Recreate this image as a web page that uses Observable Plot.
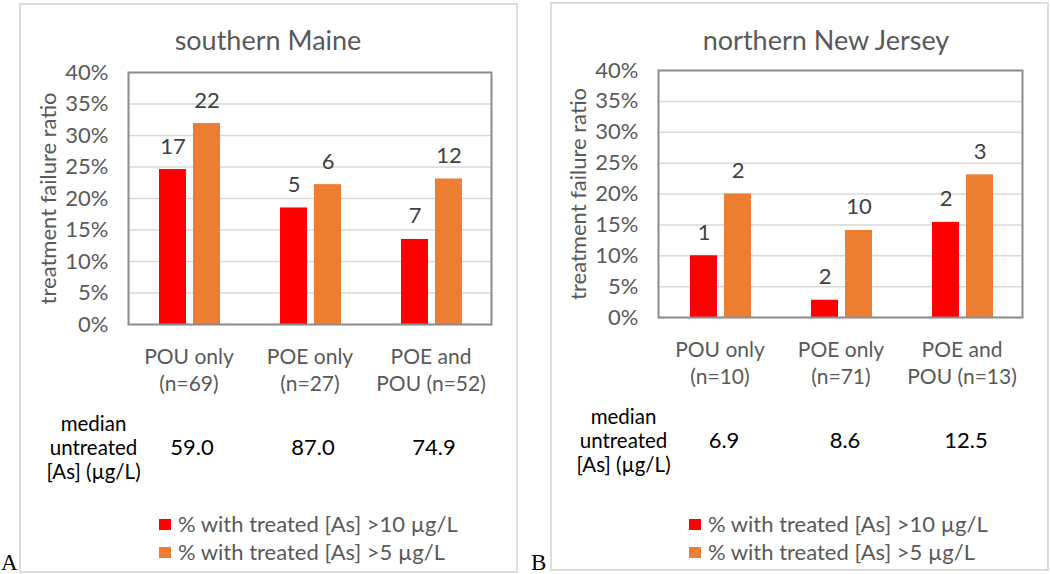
<!DOCTYPE html>
<html>
<head>
<meta charset="utf-8">
<script src="https://cdn.jsdelivr.net/npm/d3@7"></script>
<script src="https://cdn.jsdelivr.net/npm/@observablehq/plot@0.6"></script>
<style>
  body { margin: 0; background: #fff; font-family: Lato, "Open Sans", sans-serif; }
  #root { position: relative; width: 1050px; height: 574px; overflow: hidden; background: #fff; }
  .panel { position: absolute; border: 2px solid #dcdcdc; box-sizing: border-box; }
  .title { position: absolute; transform: translate(-50%, -50%); white-space: nowrap; color: #595959; font-size: 27px; }
  .chart { position: absolute; }
  .legend { position: absolute; color: #595959; font-size: 22px; line-height: 28px; white-space: nowrap; }
  .legend .row { display: flex; align-items: center; height: 28px; }
  .legend .sw { width: 12px; height: 11px; margin-right: 7px; }
  .letter { position: absolute; font-family: "Liberation Serif", "DejaVu Serif", serif; font-size: 23px; color: #000; line-height: 1; }
</style>
</head>
<body>
<div id="root"></div>
<script>
// ---- data ----
const series = ["% with treated [As] >10 µg/L", "% with treated [As] >5 µg/L"];
const seriesColors = ["#ff0000", "#ed7d31"];
const yTicks = [0, 0.05, 0.10, 0.15, 0.20, 0.25, 0.30, 0.35, 0.40];
const yLabel = "treatment failure ratio";
const medianLabel = "median\nuntreated\n[As] (µg/L)";

const maineTitle = "southern Maine";
const maineCategories = ["POU only\n(n=69)", "POE only\n(n=27)", "POE and\nPOU (n=52)"];
const maineOver10 = [0.246, 0.185, 0.135];
const maineOver5 = [0.319, 0.222, 0.231];
const maineCount10 = [17, 5, 7];
const maineCount5 = [22, 6, 12];
const maineMedian = ["59.0", "87.0", "74.9"];

const njTitle = "northern New Jersey";
const njCategories = ["POU only\n(n=10)", "POE only\n(n=71)", "POE and\nPOU (n=13)"];
const njOver10 = [0.100, 0.028, 0.154];
const njOver5 = [0.200, 0.141, 0.231];
const njCount10 = [1, 2, 2];
const njCount5 = [2, 10, 3];
const njMedian = ["6.9", "8.6", "12.5"];

const root = document.getElementById("root");

function makePanel(cfg) {
  const rows = cfg.categories.map((c, i) => ({
    cat: c, v10: cfg.over10[i], v5: cfg.over5[i],
    n10: cfg.count10[i], n5: cfg.count5[i], med: cfg.median[i]
  }));
  const fs = 22;
  const svg = Plot.plot({
    width: cfg.w, height: cfg.h,
    marginLeft: cfg.ml, marginRight: cfg.mr, marginTop: cfg.mt, marginBottom: cfg.mb,
    style: { background: "transparent", fontFamily: "Lato, 'Open Sans', sans-serif", overflow: "visible", color: "#595959" },
    x: { domain: cfg.categories, padding: 0, axis: null },
    y: { domain: [0, 0.4], axis: null },
    marks: [
      Plot.ruleY(yTicks, { stroke: "#d9d9d9", strokeWidth: 1.5 }),
      Plot.barY(rows, { x: "cat", y: "v10", fill: seriesColors[0], insetLeft: 31, insetRight: 63 }),
      Plot.barY(rows, { x: "cat", y: "v5", fill: seriesColors[1], insetLeft: 65, insetRight: 29 }),
      Plot.frame({ stroke: "#8c8c8c", strokeWidth: 2 }),
      Plot.axisY(yTicks, { tickSize: 0, tickPadding: 20, tickFormat: d3.format(".0%"), fontSize: fs, fill: "#595959", label: null }),
      Plot.text([yLabel], { frameAnchor: "left", textAnchor: "middle", lineAnchor: "middle", rotate: -90, dx: -80, fontSize: fs, fill: "#595959" }),
      Plot.text(rows, { x: "cat", y: "v10", text: "n10", dx: -16, dy: -23, fontSize: fs, fill: "#404040" }),
      Plot.text(rows, { x: "cat", y: "v5", text: "n5", dx: 18, dy: -23, fontSize: fs, fill: "#404040" }),
      Plot.text(rows, { x: "cat", text: "cat", frameAnchor: "bottom", lineAnchor: "top", dy: 20, lineHeight: 1.3, fontSize: 21, fill: "#595959" }),
      Plot.text(rows, { x: "cat", text: "med", frameAnchor: "bottom", lineAnchor: "middle", dy: 123, dx: cfg.mdx, fontSize: fs, fill: "#000" }),
      Plot.text([medianLabel], { frameAnchor: "bottom-left", textAnchor: "middle", lineAnchor: "middle", dx: -35, dy: 123, lineHeight: 1.18, fontSize: 20.5, fill: "#000" })
    ]
  });
  const panel = document.createElement("div");
  panel.className = "panel";
  Object.assign(panel.style, { left: cfg.px + "px", top: cfg.py + "px", width: cfg.pw + "px", height: cfg.ph + "px" });
  root.appendChild(panel);

  const wrap = document.createElement("div");
  wrap.className = "chart";
  Object.assign(wrap.style, { left: cfg.sx + "px", top: cfg.sy + "px" });
  wrap.appendChild(svg);
  root.appendChild(wrap);

  const t = document.createElement("div");
  t.className = "title";
  t.textContent = cfg.title;
  Object.assign(t.style, { left: cfg.tx + "px", top: cfg.ty + "px" });
  root.appendChild(t);

  const lg = document.createElement("div");
  lg.className = "legend";
  Object.assign(lg.style, { left: cfg.lx + "px", top: cfg.ly + "px" });
  series.forEach((s, i) => {
    const r = document.createElement("div"); r.className = "row";
    const sw = document.createElement("span"); sw.className = "sw"; sw.style.background = seriesColors[i];
    const tx = document.createElement("span"); tx.textContent = s;
    r.appendChild(sw); r.appendChild(tx); lg.appendChild(r);
  });
  root.appendChild(lg);

  const L = document.createElement("div");
  L.className = "letter";
  L.textContent = cfg.letter;
  Object.assign(L.style, { left: cfg.lettx + "px", top: cfg.letty + "px" });
  root.appendChild(L);
}

makePanel({
  title: maineTitle, categories: maineCategories, over10: maineOver10, over5: maineOver5,
  count10: maineCount10, count5: maineCount5, median: maineMedian, mdx: 3,
  px: 19, py: 3, pw: 499, ph: 570,
  sx: 19, sy: 3, w: 498, h: 569, ml: 109, mr: 26, mt: 69, mb: 248,
  tx: 268, ty: 39, lx: 159, ly: 510, letter: "A", lettx: 1, letty: 551
});
makePanel({
  title: njTitle, categories: njCategories, over10: njOver10, over5: njOver5,
  count10: njCount10, count5: njCount5, median: njMedian, mdx: 4,
  px: 550, py: 2, pw: 499, ph: 569,
  sx: 550, sy: 2, w: 498, h: 568, ml: 108, mr: 26, mt: 68, mb: 253,
  tx: 826, ty: 39, lx: 689, ly: 510, letter: "B", lettx: 531, letty: 551
});
</script>
</body>
</html>
